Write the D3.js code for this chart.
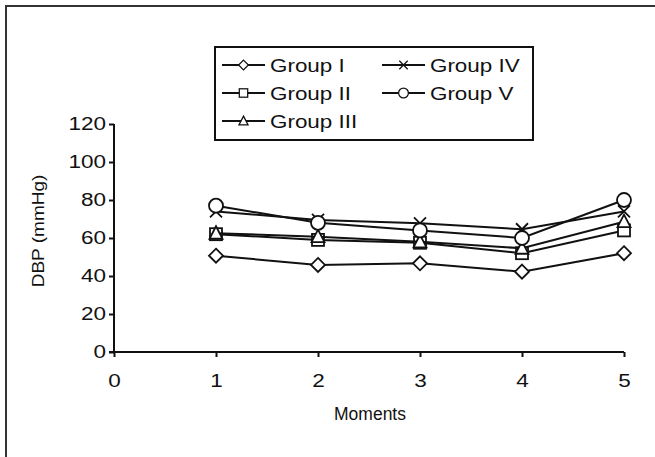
<!DOCTYPE html>
<html>
<head>
<meta charset="utf-8">
<script src="https://cdn.jsdelivr.net/npm/d3@7"></script>
<style>
  body { margin: 0; background: #fff; }
  text { font-family: Arial, "Liberation Sans", sans-serif; fill: #111; }
</style>
</head>
<body>
<div id="chart"></div>
<script>
var moments = [1, 2, 3, 4, 5];
var xTicks = [0, 1, 2, 3, 4, 5];
var yTicks = [0, 20, 40, 60, 80, 100, 120];
var groupNames = ['Group I', 'Group II', 'Group III', 'Group IV', 'Group V'];
var groupSymbols = ['diamond', 'square', 'triangle', 'cross', 'circle'];
var groupI = [50.7, 45.8, 46.7, 42.3, 52];
var groupII = [62, 59, 57.5, 52, 64];
var groupIII = [62.5, 60.7, 58, 54.6, 68.6];
var groupIV = [74, 69.5, 67.7, 64.6, 74];
var groupV = [77, 68, 64, 60, 80];
var groupValues = [groupI, groupII, groupIII, groupIV, groupV];

var width = 655, height = 457;
var svg = d3.select('#chart').append('svg').attr('width', width).attr('height', height);

// outer frame (right and bottom edges are cut off in the original)
svg.append('rect')
  .attr('x', 6).attr('y', 6).attr('width', 700).attr('height', 500)
  .attr('fill', 'none').attr('stroke', '#333').attr('stroke-width', 2);

var x = d3.scaleLinear().domain([0, 5]).range([114, 624]);
var y = d3.scaleLinear().domain([0, 120]).range([352, 124]);

// the original text is set in a wide face, so stretch it a bit horizontally
function stretch(sel, sx, ox, oy) {
  sel.attr('transform', 'translate(' + ox + ',' + oy + ') scale(' + sx + ',1) translate(' + (-ox) + ',' + (-oy) + ')');
}

var yAxis = svg.append('g').attr('transform', 'translate(114,0)')
  .call(d3.axisLeft(y).tickValues(yTicks).tickFormat(d3.format('d')).tickSize(5).tickPadding(3));
var xAxis = svg.append('g').attr('transform', 'translate(0,352)')
  .call(d3.axisBottom(x).tickValues(xTicks).tickFormat(d3.format('d')).tickSize(5).tickPadding(17));

[xAxis, yAxis].forEach(function(ax) {
  ax.select('.domain').attr('stroke', '#111').attr('stroke-width', 2);
  ax.selectAll('.tick line').attr('stroke', '#111').attr('stroke-width', 2);
  ax.selectAll('.tick text').style('font-size', '18px').attr('font-family', null);
});
xAxis.selectAll('.tick text').each(function() { stretch(d3.select(this), 1.25, 0, 0); });
yAxis.selectAll('.tick text').each(function() { stretch(d3.select(this), 1.25, -8, 0); });
xAxis.select('.domain').attr('d', 'M' + (114 - 5) + ',0H624');
yAxis.select('.domain').attr('d', 'M0,124V352');

svg.append('text')
  .attr('transform', 'translate(44,231) rotate(-90) scale(1.12,1)')
  .attr('text-anchor', 'middle')
  .style('font-size', '17px')
  .text('DBP (mmHg)');

svg.append('text')
  .attr('x', 370).attr('y', 420)
  .attr('text-anchor', 'middle')
  .style('font-size', '17.5px')
  .text('Moments');

function drawSymbol(g, type, cx, cy) {
  var s;
  if (type === 'diamond') {
    s = g.append('path').attr('d', 'M' + cx + ',' + (cy - 7) + 'L' + (cx + 7) + ',' + cy + 'L' + cx + ',' + (cy + 7) + 'L' + (cx - 7) + ',' + cy + 'Z');
  } else if (type === 'square') {
    s = g.append('rect').attr('x', cx - 6).attr('y', cy - 6).attr('width', 12).attr('height', 12);
  } else if (type === 'triangle') {
    s = g.append('path').attr('d', 'M' + cx + ',' + (cy - 7) + 'L' + (cx + 6.5) + ',' + (cy + 5.5) + 'L' + (cx - 6.5) + ',' + (cy + 5.5) + 'Z');
  } else if (type === 'circle') {
    s = g.append('circle').attr('cx', cx).attr('cy', cy).attr('r', 7);
  } else {
    s = g.append('path').attr('d', 'M' + (cx - 6) + ',' + (cy - 6) + 'L' + (cx + 6) + ',' + (cy + 6) + 'M' + (cx + 6) + ',' + (cy - 6) + 'L' + (cx - 6) + ',' + (cy + 6));
  }
  return s.attr('fill', type === 'cross' ? 'none' : '#fff').attr('stroke', '#111').attr('stroke-width', 1.8);
}

var line = d3.line().x(function(d, i) { return x(moments[i]); }).y(function(d) { return y(d); });

groupValues.forEach(function(vals, k) {
  var g = svg.append('g');
  g.append('path').attr('d', line(vals)).attr('fill', 'none').attr('stroke', '#111').attr('stroke-width', 2);
  vals.forEach(function(v, i) { drawSymbol(g, groupSymbols[k], x(moments[i]), y(v)); });
});

// legend
var legend = svg.append('g');
legend.append('rect').attr('x', 215).attr('y', 47).attr('width', 318).attr('height', 93)
  .attr('fill', '#fff').attr('stroke', '#111').attr('stroke-width', 2);
groupNames.forEach(function(name, k) {
  var col = k < 3 ? 0 : 1, row = k < 3 ? k : k - 3;
  var lx = col === 0 ? 222 : 382, ly = 65 + row * 28;
  legend.append('line').attr('x1', lx).attr('x2', lx + 43).attr('y1', ly).attr('y2', ly)
    .attr('stroke', '#111').attr('stroke-width', 2);
  var sym = drawSymbol(legend, groupSymbols[k], lx + 21.5, ly);
  sym.attr('transform', 'translate(' + (lx + 21.5) + ',' + ly + ') scale(0.7) translate(' + (-(lx + 21.5)) + ',' + (-ly) + ')');
  var t = legend.append('text').attr('x', lx + 48).attr('y', ly + 7)
    .style('font-size', '19px').text(name);
  stretch(t, 1.18, lx + 48, ly);
});
</script>
</body>
</html>
